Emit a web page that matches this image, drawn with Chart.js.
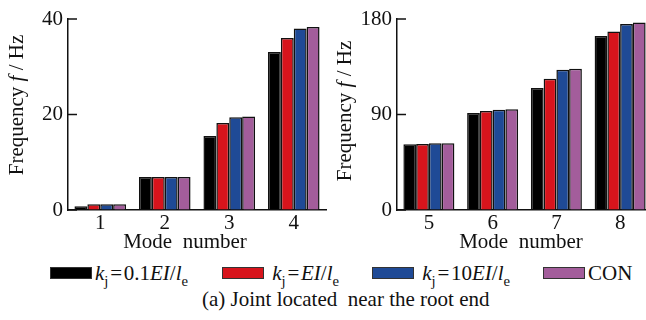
<!DOCTYPE html>
<html>
<head>
<meta charset="utf-8">
<script src="https://cdn.jsdelivr.net/npm/chart.js@4"></script>
<style>
  html, body { margin: 0; padding: 0; background: #fff; }
  body { position: relative; width: 646px; height: 320px; overflow: hidden; font-family: "Liberation Serif", serif; color: #111; }
  #left { position: absolute; left: 0; top: 0; }
  #right { position: absolute; left: 326px; top: 0; }
  .item { position: absolute; top: 260px; height: 26px; line-height: 26px; font-size: 21px; white-space: nowrap; }
  .box { display: inline-block; width: 40px; height: 10px; border: 1px solid #333; vertical-align: 1px; margin-right: 3px; }
  sub { font-size: 0.7em; vertical-align: -0.4em; line-height: 0; }
  #caption { position: absolute; left: 202px; top: 286px; font-size: 21px; line-height: 26px; white-space: pre; }
</style>
</head>
<body>
<canvas id="left" width="330" height="255"></canvas>
<canvas id="right" width="330" height="255"></canvas>

<div class="item" style="left:50px"><span class="box" style="background:#000"></span><i>k</i><sub>j</sub>&#8202;=&#8202;0.1<i>EI</i>/<i>l</i><sub>e</sub></div>
<div class="item" style="left:222px"><span class="box" style="background:#d7141c"></span> <i>k</i><sub>j</sub>&#8202;=&#8202;<i>EI</i>/<i>l</i><sub>e</sub></div>
<div class="item" style="left:372px"><span class="box" style="background:#1f4a96"></span> <i>k</i><sub>j</sub>&#8202;=&#8202;10<i>EI</i>/<i>l</i><sub>e</sub></div>
<div class="item" style="left:543px"><span class="box" style="background:#a35d9b"></span>CON</div>
<div id="caption">(a) Joint located  near the root end</div>

<script>
const modesLeft = ['1', '2', '3', '4'];
const modesRight = ['5', '6', '7', '8'];

// frequency in Hz for modes 1..8
const k01 = [0.8, 6.9, 15.5, 33.1, 62.0, 91.4, 114.9, 164.0];
const kEI = [1.2, 6.9, 18.2, 36.0, 62.3, 93.3, 123.7, 168.2];
const k10 = [1.2, 6.9, 19.4, 38.0, 63.0, 94.5, 132.2, 175.4];
const con = [1.2, 6.9, 19.6, 38.3, 63.0, 94.9, 133.1, 176.6];

const seriesColors = ['#000000', '#d7141c', '#1f4a96', '#a35d9b'];
const seriesNames = ['k_j=0.1EI/l_e', 'k_j=EI/l_e', 'k_j=10EI/l_e', 'CON'];

const serif = 'Liberation Serif';
const ink = '#111';

// inward y ticks, y title with italic f, x title
const axisDecor = {
  id: 'axisDecor',
  afterDraw(chart, args, opts) {
    const { ctx, chartArea } = chart;
    const y = chart.scales.y;
    ctx.save();
    ctx.strokeStyle = ink;
    ctx.lineWidth = 1.5;
    y.ticks.forEach(t => {
      const py = y.getPixelForValue(t.value);
      ctx.beginPath();
      ctx.moveTo(chartArea.left, py);
      ctx.lineTo(chartArea.left + 9, py);
      ctx.stroke();
    });

    ctx.fillStyle = ink;
    ctx.textBaseline = 'middle';
    ctx.textAlign = 'center';
    ctx.font = '21px "' + serif + '"';
    ctx.fillText('Mode  number', opts.xt, opts.yt);

    ctx.textAlign = 'left';
    const parts = [['Frequency ', ''], ['f', 'italic '], [' / Hz', '']];
    ctx.translate(opts.x, opts.y);
    ctx.rotate(-Math.PI / 2);
    let total = 0;
    parts.forEach(p => { ctx.font = p[1] + '21px "' + serif + '"'; total += ctx.measureText(p[0]).width; });
    let x = -total / 2;
    parts.forEach(p => {
      ctx.font = p[1] + '21px "' + serif + '"';
      ctx.fillText(p[0], x, 0);
      x += ctx.measureText(p[0]).width;
    });
    ctx.restore();
  }
};

function makeChart(id, labels, from, max, step, yWidth, deco) {
  const all = [k01, kEI, k10, con];
  return new Chart(document.getElementById(id), {
    type: 'bar',
    data: {
      labels: labels,
      datasets: all.map((arr, i) => ({
        label: seriesNames[i],
        data: arr.slice(from, from + 4),
        backgroundColor: seriesColors[i],
        borderColor: '#111',
        borderWidth: 1.5,
        borderSkipped: 'bottom',
        categoryPercentage: 0.8,
        barPercentage: 1.0
      }))
    },
    options: {
      responsive: false,
      animation: false,
      devicePixelRatio: 1,
      layout: { padding: { top: 19, right: 4, left: 0, bottom: 0 } },
      plugins: {
        legend: { display: false },
        tooltip: { enabled: false },
        axisDecor: deco
      },
      scales: {
        x: {
          grid: { display: true, drawOnChartArea: false, drawTicks: false },
          border: { display: true, color: ink, width: 1.5 },
          ticks: { color: ink, padding: 1, font: { family: serif, size: 21 } },
          afterFit(scale) { scale.height = 45; }
        },
        y: {
          min: 0,
          max: max,
          ticks: { stepSize: step, color: ink, padding: 5, font: { family: serif, size: 21 } },
          grid: { display: true, drawOnChartArea: false, drawTicks: false },
          border: { display: true, color: ink, width: 1.5 },
          afterFit(scale) { scale.width = yWidth; }
        }
      }
    },
    plugins: [axisDecor]
  });
}

makeChart('left', modesLeft, 0, 40, 20, 68, { x: 17, y: 105, xt: 185, yt: 242 });
makeChart('right', modesRight, 4, 180, 90, 71, { x: 19, y: 111, xt: 195, yt: 242 });
</script>
</body>
</html>
